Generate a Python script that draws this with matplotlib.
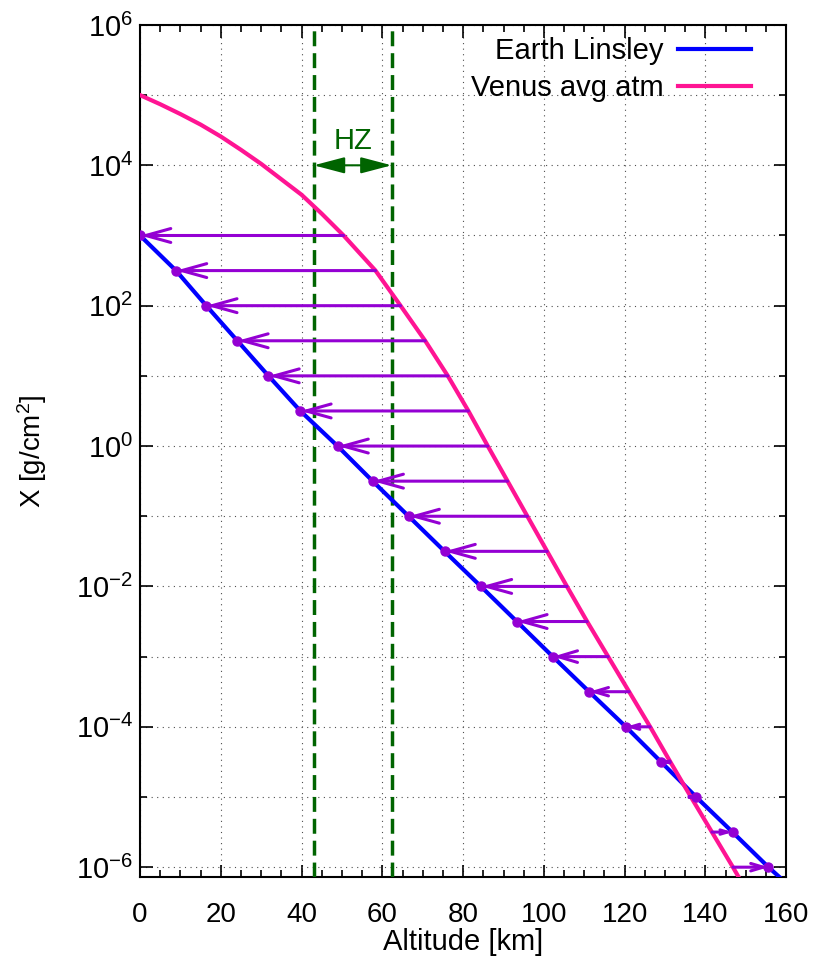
import numpy as np
import matplotlib.pyplot as plt
from matplotlib.ticker import FixedLocator, FuncFormatter

plt.rcParams['font.family'] = ['Liberation Sans', 'DejaVu Sans']
plt.rcParams['mathtext.fontset'] = 'custom'
plt.rcParams['mathtext.rm'] = 'Liberation Sans'
plt.rcParams['mathtext.it'] = 'Liberation Sans'

# Slant depth levels (log10 X) where arrows are drawn
arrow_logx = [3.0, 2.5, 2.0, 1.5, 1.0, 0.5, 0.0, -0.5, -1.0, -1.5, -2.0,
              -2.5, -3.0, -3.5, -4.0, -4.5, -5.0, -5.5, -6.0]
# Earth (Linsley) altitude at these levels [km]
earth_alt = [0.0, 8.9, 16.4, 24.1, 31.8, 39.7, 48.9, 57.6, 66.5, 75.4, 84.4,
             93.3, 102.2, 111.2, 120.3, 129.0, 137.7, 146.7, 155.6]
# Venus altitude at the same levels [km]
venus_alt = [50.4, 58.3, 64.5, 70.6, 76.2, 81.3, 86.1, 91.0, 95.9, 100.8, 105.7,
             110.7, 115.9, 121.1, 126.3, 131.3, 136.4, 141.6, 146.8]

# Upper part of the Venus curve (above 10^3 g/cm2)
venus_top_alt = [0.0, 5.0, 10.0, 15.0, 20.0, 25.0, 30.0, 35.0, 40.0, 45.0]
venus_top_logx = [5.0, 4.87, 4.73, 4.58, 4.41, 4.22, 4.02, 3.80, 3.58, 3.31]

# Curve ends at lower plot edge
earth_end = (158.3, -6.14)
venus_end = (148.2, -6.14)

hz_low, hz_high = 43.0, 62.3

blue = '#0000ff'
pink = '#ff1493'
purple = '#9400d3'
green = '#006400'

fig = plt.figure(figsize=(8.19, 9.59), dpi=100)
ax = fig.add_axes([0.171, 0.0855, 0.789, 0.8885])

e_x = earth_alt + [earth_end[0]]
e_y = [10 ** v for v in arrow_logx + [earth_end[1]]]
v_x = venus_top_alt + venus_alt + [venus_end[0]]
v_y = [10 ** v for v in venus_top_logx + arrow_logx + [venus_end[1]]]

ax.plot(e_x, e_y, color=blue, lw=3, label='Earth Linsley', zorder=4)
ax.plot(v_x, v_y, color=pink, lw=3, label='Venus avg atm', zorder=4)

px_per_km = 646 / 160.0
for lx, ea, va in zip(arrow_logx, earth_alt, venus_alt):
    y = 10 ** lx
    length_px = abs(va - ea) * px_per_km
    hl = min(1.8, 0.35 * length_px / 1.389 / 10)
    hw = min(0.5, hl * 0.3)
    if length_px < 3:
        continue
    ax.annotate('', xy=(ea, y), xytext=(va, y),
                arrowprops=dict(arrowstyle='->, head_length=%.3f, head_width=%.3f' % (hl, hw),
                                color=purple, lw=2.2, shrinkA=0, shrinkB=0),
                zorder=5)
ax.plot(earth_alt, [10 ** v for v in arrow_logx], 'o', color=purple,
        ms=6.5, zorder=6)

# habitable zone
for xv in (hz_low, hz_high):
    ax.axvline(xv, color=green, lw=2.5, dashes=(4.3, 2.0), zorder=3)
ax.annotate('', xy=(hz_low, 1e4), xytext=(hz_high, 1e4),
            arrowprops=dict(arrowstyle='<|-|>, head_length=1.9, head_width=0.5',
                            color=green, lw=1.5, shrinkA=0, shrinkB=0), zorder=5)
ax.text((hz_low + hz_high) / 2, 10 ** 4.35, 'HZ', color=green, fontsize=21,
        ha='center', va='center')

ax.set_yscale('log')
ax.set_xlim(0, 160)
ax.set_ylim(10 ** -6.14, 1e6)

ax.xaxis.set_major_locator(FixedLocator(np.arange(0, 161, 20)))
ax.xaxis.set_minor_locator(FixedLocator(np.arange(0, 161, 5)))
ax.yaxis.set_major_locator(FixedLocator([10.0 ** k for k in range(-6, 7, 2)]))
ax.yaxis.set_minor_locator(FixedLocator([10.0 ** k for k in range(-5, 6, 2)]))
ax.yaxis.set_major_formatter(FuncFormatter(lambda v, p: r'$10^{%d}$' % round(np.log10(v))))
ax.yaxis.set_minor_formatter(FuncFormatter(lambda v, p: ''))

ax.tick_params(which='both', direction='in', top=True, right=True, width=1.2)
ax.tick_params(which='major', length=9)
ax.tick_params(which='minor', length=5)
ax.tick_params(axis='y', which='major', labelsize=21, pad=5)
ax.tick_params(axis='x', which='major', labelsize=20, pad=18)

ax.grid(True, which='major', axis='x', color='0.3', lw=0.8, dashes=(1, 4))
ax.grid(True, which='both', axis='y', color='0.3', lw=0.8, dashes=(1, 4))
for s in ax.spines.values():
    s.set_linewidth(1.5)

ax.set_xlabel('Altitude [km]', fontsize=21, labelpad=0)
ax.set_ylabel(r'X [g/cm$^2$]', fontsize=20, labelpad=19)

leg = ax.legend(loc='upper right', bbox_to_anchor=(0.977, 1.01), frameon=False,
                fontsize=21, markerfirst=False, handlelength=2.5,
                borderaxespad=0.3, labelspacing=0.33, handletextpad=0.5)
for t in leg.get_texts():
    t.set_ha('right')
leg.set_zorder(7)

fig.savefig('out.png', dpi=100)
